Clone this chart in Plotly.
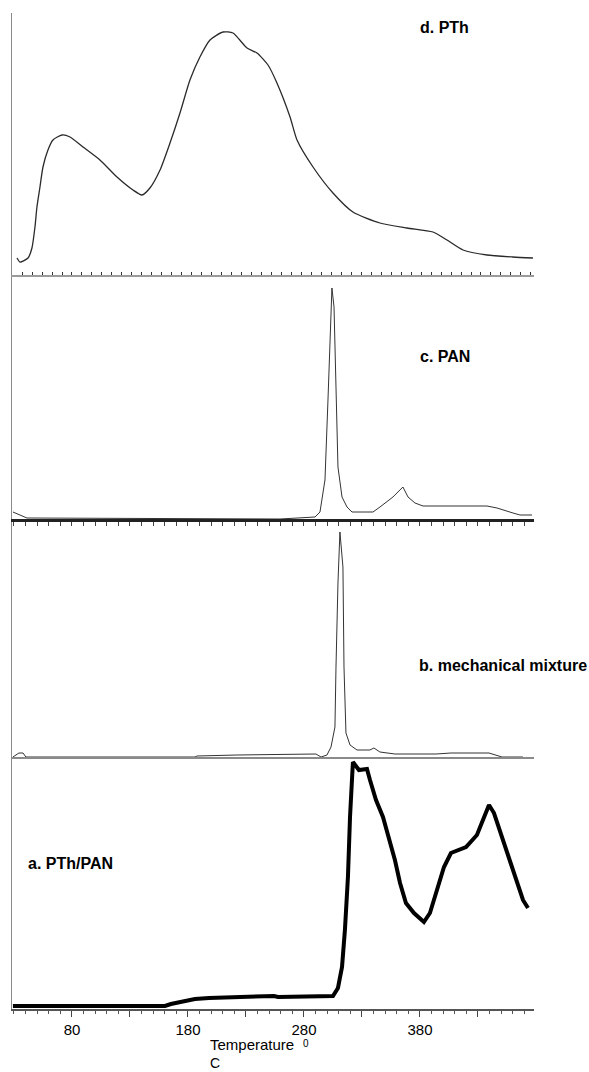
import plotly.graph_objects as go

# ---- data (temperature in deg C, signal in arbitrary units) ----
pth_T = [32.6, 35.2, 42.1, 45.5, 48.1, 49.8, 52.4, 55.0, 59.3, 63.6, 71.4, 78.3, 89.5,
         104.1, 118.8, 132.6, 140.3, 147.2, 155.9, 164.5, 173.1, 181.7, 190.3, 199.0,
         210.2, 218.8, 230.9, 239.5, 249.0, 256.7, 268.0, 274.0, 287.8, 305.0, 322.2,
         345.5, 368.8, 391.2, 403.3, 417.1, 437.8, 460.2, 477.4]
pth_v = [17, 13, 17, 27, 48, 68, 88, 108, 125, 135, 140, 138, 128,
         115, 98, 85, 80, 87, 105, 132, 162, 195, 218, 235,
         243, 242, 227, 222, 210, 192, 158, 135, 108, 82, 63,
         52, 47, 43, 35, 25, 20, 18, 17]

pan_T = [29.1, 41.2, 259.3, 289.5, 293.8, 298.1, 300.7, 302.4, 304.1, 305.9, 307.6,
         309.3, 312.8, 317.1, 321.4, 339.5, 345.5, 356.7, 365.3, 369.7, 375.7, 382.6,
         437.8, 446.4, 460.2, 466.2, 476.6]
pan_v = [7, 1, 0, 2, 7, 39, 119, 186, 231, 212, 136,
         52, 22, 12, 7, 7, 12, 22, 32, 22, 16, 13,
         13, 11, 6, 4, 4]

mix_T = [29.1, 34.3, 37.8, 40.3, 186.0, 187.8, 222.2, 290.3, 294.7, 299.8, 303.3,
         306.7, 307.6, 309.3, 311.0, 313.6, 314.5, 316.2, 319.7, 325.7, 336.9, 340.3,
         345.5, 358.4, 393.8, 406.7, 439.5, 450.7, 468.8]
mix_v = [0, 4, 4, 0, 0, 1, 2, 3, 0, 2, 10,
         30, 90, 174, 225, 190, 90, 24, 12, 7, 7, 9,
         5, 3, 3, 4, 4, 0, 0]

blend_T = [29.1, 160.2, 165.3, 173.1, 186.0, 198.1, 217.1, 244.7, 254.1, 257.6, 293.8,
           305.0, 309.3, 312.8, 315.3, 317.9, 319.7, 322.2, 327.4, 334.3, 336.9, 342.1,
           348.1, 353.3, 358.4, 362.8, 367.9, 374.8, 383.4, 388.6, 393.8, 400.7, 406.7,
           419.7, 429.1, 439.5, 443.8, 452.4, 461.9, 468.8, 473.1]
blend_v = [3, 3, 5, 7, 10, 11, 12, 13, 13, 12, 12,
           13, 21, 42, 79, 132, 192, 247, 239, 240, 229, 209,
           192, 172, 149, 126, 106, 96, 87, 96, 116, 142, 156,
           162, 174, 204, 196, 166, 132, 109, 101]

x_tick_vals = [80, 130, 180, 230, 280, 330, 380, 430]
x_tick_text = ["80", "", "180", "", "280", "", "380", ""]

panel_labels = ["a. PTh/PAN", "b. mechanical mixture", "c. PAN", "d. PTh"]

# ---- figure ----
W, H = 589, 1072
ML, MR, MT, MB = 12, 55, 13, 63
ph = H - MT - MB  # plot height in px
axis_px = [1009, 757, 519, 275]  # bottom line of each panel (page px)
top_px = MT


def pf(py):
    return (H - MB - py) / ph


doms = [[pf(axis_px[0]), pf(axis_px[1])],
        [pf(axis_px[1]), pf(axis_px[2])],
        [pf(axis_px[2]), pf(axis_px[3])],
        [pf(axis_px[3]), 1.0]]
yranges = [[0, axis_px[0] - axis_px[1]],
           [0, axis_px[1] - axis_px[2]],
           [0, axis_px[2] - axis_px[3]],
           [0, axis_px[3] - top_px]]

xr = [28.3, 478.3]

fig = go.Figure()
fig.add_trace(go.Scatter(x=blend_T, y=blend_v, mode="lines", xaxis="x", yaxis="y",
                         line=dict(color="black", width=4)))
fig.add_trace(go.Scatter(x=mix_T, y=mix_v, mode="lines", xaxis="x2", yaxis="y2",
                         line=dict(color="#333333", width=1)))
fig.add_trace(go.Scatter(x=pan_T, y=pan_v, mode="lines", xaxis="x3", yaxis="y3",
                         line=dict(color="#333333", width=1)))
fig.add_trace(go.Scatter(x=pth_T, y=pth_v, mode="lines", xaxis="x4", yaxis="y4",
                         line=dict(color="#2a2a2a", width=1.3, shape="spline", smoothing=0.6)))

font_fam = "Arial, Liberation Sans, sans-serif"

layout = dict(
    width=W, height=H,
    margin=dict(l=ML, r=MR, t=MT, b=MB),
    paper_bgcolor="white", plot_bgcolor="white",
    showlegend=False,
    font=dict(family=font_fam, color="black"),
    xaxis=dict(range=xr, domain=[0, 1], anchor="y", showline=True, linecolor="#555555",
               linewidth=1.5, ticks="outside", tickvals=x_tick_vals, ticktext=x_tick_text,
               ticklen=6, tickcolor="#444444", showgrid=False, zeroline=False,
               tickfont=dict(size=15, family=font_fam, color="black"),
               minor=dict(dtick=10, tick0=80, ticks="outside", ticklen=3, tickcolor="#555555")),
    xaxis2=dict(range=xr, domain=[0, 1], anchor="y2", matches="x", showline=True,
                linecolor="#8a8a8a", linewidth=1.5, ticks="", showticklabels=False,
                showgrid=False, zeroline=False),
    xaxis3=dict(range=xr, domain=[0, 1], anchor="y3", matches="x", showline=True,
                linecolor="#222222", linewidth=2.5, ticks="outside", ticklen=4,
                tickcolor="#444444", dtick=10, tick0=80, showticklabels=False,
                showgrid=False, zeroline=False),
    xaxis4=dict(range=xr, domain=[0, 1], anchor="y4", matches="x", showline=True,
                linecolor="#9a9a9a", linewidth=2, ticks="inside", ticklen=3,
                tickcolor="#333333", dtick=8.6, tick0=80, showticklabels=False,
                showgrid=False, zeroline=False),
)
for i in range(4):
    key = "yaxis" if i == 0 else f"yaxis{i+1}"
    layout[key] = dict(domain=doms[i], range=yranges[i], anchor="x" if i == 0 else f"x{i+1}",
                       showline=True, linecolor="#8a8a8a", linewidth=1.2, ticks="",
                       showticklabels=False, showgrid=False, zeroline=False)

fig.update_layout(**layout)


def ax(px):
    return (px - ML) / (W - ML - MR)


ann = [
    (panel_labels[0], 26, 863),
    (panel_labels[1], 417, 666),
    (panel_labels[2], 418, 357),
    (panel_labels[3], 418, 28),
]
for txt, px, py in ann:
    fig.add_annotation(text=f"<b>{txt}</b>", x=ax(px), y=pf(py), xref="paper", yref="paper",
                       xanchor="left", yanchor="middle", showarrow=False,
                       font=dict(size=16, family=font_fam, color="black"))

fig.add_annotation(text="Temperature", x=ax(208), y=pf(1044), xref="paper", yref="paper",
                   xanchor="left", yanchor="middle", showarrow=False,
                   font=dict(size=15, family=font_fam, color="black"))
fig.add_annotation(text="0", x=ax(301), y=pf(1043), xref="paper", yref="paper",
                   xanchor="left", yanchor="middle", showarrow=False,
                   font=dict(size=10, family=font_fam, color="black"))
fig.add_annotation(text="C", x=ax(208), y=pf(1063), xref="paper", yref="paper",
                   xanchor="left", yanchor="middle", showarrow=False,
                   font=dict(size=14, family=font_fam, color="black"))

fig.write_html("out.html")
